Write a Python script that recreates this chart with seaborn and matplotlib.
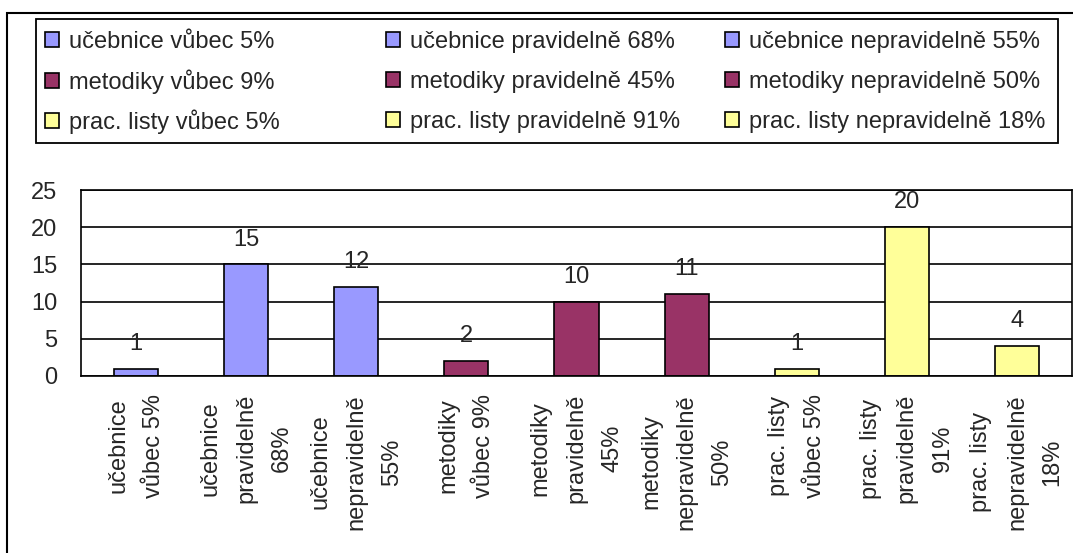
import numpy as np
import pandas as pd
import seaborn as sns
import matplotlib.pyplot as plt
from matplotlib.patches import Patch, Rectangle

# data
kategorie = ["učebnice vůbec 5%", "učebnice pravidelně 68%", "učebnice nepravidelně 55%",
             "metodiky vůbec 9%", "metodiky pravidelně 45%", "metodiky nepravidelně 50%",
             "prac. listy vůbec 5%", "prac. listy pravidelně 91%", "prac. listy nepravidelně 18%"]
popisky = ["učebnice\nvůbec 5%", "učebnice\npravidelně\n68%", "učebnice\nnepravidelně\n55%",
           "metodiky\nvůbec 9%", "metodiky\npravidelně\n45%", "metodiky\nnepravidelně\n50%",
           "prac. listy\nvůbec 5%", "prac. listy\npravidelně\n91%", "prac. listy\nnepravidelně\n18%"]
pocty = [1, 15, 12, 2, 10, 11, 1, 20, 4]
barvy = ["#9999FF", "#9999FF", "#9999FF",
         "#993366", "#993366", "#993366",
         "#FFFF99", "#FFFF99", "#FFFF99"]

sns.set_style("white")
plt.rcParams['font.family'] = ['Liberation Sans', 'DejaVu Sans']
fs = 17

W, H = 1073, 553
fig = plt.figure(figsize=(W / 100, H / 100), dpi=100)
ax = fig.add_axes([81 / W, 1 - 376 / H, (1072 - 81) / W, (376 - 190) / H])

df = pd.DataFrame({"kat": kategorie, "n": pocty})
sns.barplot(data=df, x="kat", y="n", hue="kat", order=kategorie, hue_order=kategorie,
            palette=barvy, width=0.4, edgecolor="black", linewidth=1.2,
            saturation=1, legend=False, ax=ax)

for c in ax.containers:
    ax.bar_label(c, padding=10, fontsize=fs)

ax.set_ylim(0, 25)
ax.set_yticks(range(0, 26, 5))
ax.set_xlim(-0.5, 8.5)
ax.set_axisbelow(True)
ax.yaxis.grid(True, color="black", linewidth=1.2)
ax.set_xlabel("")
ax.set_ylabel("")
for s in ax.spines.values():
    s.set_color("black")
    s.set_linewidth(1.2)

ax.set_xticks(range(9))
ax.set_xticklabels(popisky, rotation=90, ha="center", va="top", multialignment="center",
                   fontsize=fs, linespacing=1.8)
ax.set_xticks(np.arange(-0.5, 9, 1), minor=True)
ax.tick_params(axis="x", which="major", length=0, pad=13)
ax.tick_params(axis="x", which="minor", length=8, width=1.2, color="black", direction="out")
ax.tick_params(axis="y", length=9, width=1.2, color="black", direction="out", pad=8, labelsize=fs)

# legenda - 3 x 3 polozky, kazda zvlast kvuli zarovnani
xpos = [45, 386, 725]
ypos = [42, 82, 122]
for i, kat in enumerate(kategorie):
    radek, sloupec = divmod(i, 3)
    h = Patch(facecolor=barvy[i], edgecolor="black", linewidth=1.2)
    fig.legend([h], [kat], loc="center left",
               bbox_to_anchor=(xpos[sloupec] / W, 1 - ypos[radek] / H),
               frameon=False, fontsize=fs, handlelength=0.6, handleheight=0.6,
               handletextpad=0.4, borderpad=0, borderaxespad=0)

fig.patches.append(Rectangle((36 / W, 1 - 143 / H), (1058 - 36) / W, (143 - 19) / H,
                             transform=fig.transFigure, fill=False, edgecolor="black", linewidth=1.3))
fig.patches.append(Rectangle((7 / W, -0.05), 1.1, 1.05 - 13 / H,
                             transform=fig.transFigure, fill=False, edgecolor="black", linewidth=1.5))

fig.savefig("out.png", dpi=100)
